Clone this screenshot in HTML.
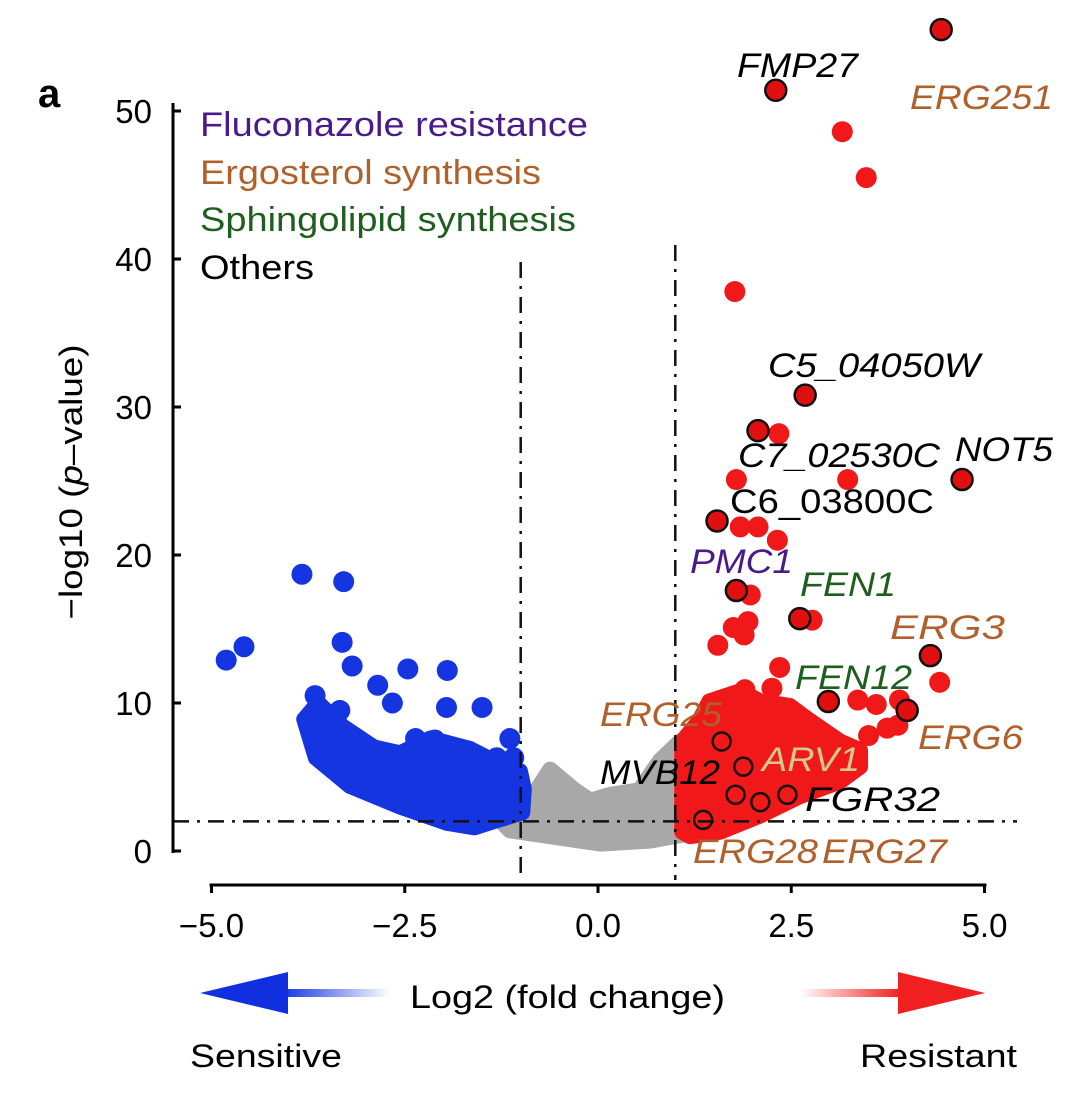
<!DOCTYPE html>
<html><head><meta charset="utf-8"><style>
body{margin:0;background:#fff}
svg{display:block;font-family:"Liberation Sans",sans-serif}
</style></head><body>
<svg id="chart" width="1080" height="1094" viewBox="0 0 1080 1094">
<defs>
<linearGradient id="gb" x1="0" x2="1"><stop offset="0" stop-color="#1030e0"/><stop offset="1" stop-color="#1030e0" stop-opacity="0"/></linearGradient>
<linearGradient id="gr" x1="0" x2="1"><stop offset="0" stop-color="#f02020" stop-opacity="0"/><stop offset="1" stop-color="#f02020"/></linearGradient>
</defs>
<text x="38" y="107" font-size="40" font-weight="bold">a</text>
<g id="marks"></g>
<g id="axes"></g>
<g font-size="34">
<text x="200" y="136" fill="#4b1a8a" textLength="388" lengthAdjust="spacingAndGlyphs">Fluconazole resistance</text>
<text x="200" y="184" fill="#b0602a" textLength="341" lengthAdjust="spacingAndGlyphs">Ergosterol synthesis</text>
<text x="200" y="231" fill="#1e5e1e" textLength="376" lengthAdjust="spacingAndGlyphs">Sphingolipid synthesis</text>
<text x="200" y="279" fill="#000" textLength="114" lengthAdjust="spacingAndGlyphs">Others</text>
</g>
<g font-size="34" font-style="italic">
<text x="737" y="77" textLength="121" lengthAdjust="spacingAndGlyphs">FMP27</text>
<text x="910" y="109" fill="#b0602a" textLength="143" lengthAdjust="spacingAndGlyphs">ERG251</text>
<text x="768" y="377" textLength="212" lengthAdjust="spacingAndGlyphs">C5_04050W</text>
<text x="738" y="467" textLength="202" lengthAdjust="spacingAndGlyphs">C7_02530C</text>
<text x="955" y="461" textLength="98" lengthAdjust="spacingAndGlyphs">NOT5</text>
<text x="730" y="513" font-style="normal" textLength="204" lengthAdjust="spacingAndGlyphs">C6_03800C</text>
<text x="690" y="573" fill="#4b1a8a" textLength="103" lengthAdjust="spacingAndGlyphs">PMC1</text>
<text x="800" y="596" fill="#1e5e1e" textLength="96" lengthAdjust="spacingAndGlyphs">FEN1</text>
<text x="890" y="639" fill="#b0602a" textLength="115" lengthAdjust="spacingAndGlyphs">ERG3</text>
<text x="795" y="689" fill="#1e5e1e" textLength="117" lengthAdjust="spacingAndGlyphs">FEN12</text>
<text x="918" y="749" fill="#b0602a" textLength="105" lengthAdjust="spacingAndGlyphs">ERG6</text>
<text x="600" y="726" fill="#b0602a" textLength="122" lengthAdjust="spacingAndGlyphs">ERG25</text>
<text x="600" y="784" textLength="120" lengthAdjust="spacingAndGlyphs">MVB12</text>
<text x="762" y="771" fill="#d8c890" textLength="98" lengthAdjust="spacingAndGlyphs">ARV1</text>
<text x="805" y="811" textLength="135" lengthAdjust="spacingAndGlyphs">FGR32</text>
<text x="693" y="863" fill="#b0602a" textLength="125" lengthAdjust="spacingAndGlyphs">ERG28</text>
<text x="822" y="863" fill="#b0602a" textLength="125" lengthAdjust="spacingAndGlyphs">ERG27</text>
</g>
<text transform="translate(82,482) rotate(-90)" text-anchor="middle" font-size="32" textLength="275" lengthAdjust="spacingAndGlyphs">−log10 (<tspan font-style="italic">p</tspan>–value)</text>
<g>
<rect x="280" y="989" width="110" height="8" fill="url(#gb)"/>
<polygon points="200,993 288,972 288,1014" fill="#1030e0"/>
<rect x="800" y="989" width="100" height="8" fill="url(#gr)"/>
<polygon points="985,993 898,972 898,1014" fill="#f02020"/>
<text x="410" y="1008" font-size="32" textLength="315" lengthAdjust="spacingAndGlyphs">Log2 (fold change)</text>
<text x="190" y="1067" font-size="32" textLength="152" lengthAdjust="spacingAndGlyphs">Sensitive</text>
<text x="860" y="1067" font-size="32" textLength="157" lengthAdjust="spacingAndGlyphs">Resistant</text>
</g>
</svg>
<script>
const xTicks=[-5,-2.5,0,2.5,5];
const xTickLabels=["−5.0","−2.5","0.0","2.5","5.0"];
const yTicks=[0,10,20,30,40,50];
const yTickLabels=["0","10","20","30","40","50"];
const fcThreshold=[-1,1];
const pThreshold=2;
const grayRegionX=[-1.27,-0.88,-0.62,-0.30,-0.10,0.16,0.54,0.80,1.06,1.09,0.67,0.03,-0.49,-1.14];
const grayRegionY=[2.1,3.4,5.5,4.1,3.4,3.8,4.1,6.1,7.4,1.1,0.7,0.5,0.9,1.4];
const blueRegionX=[-3.62,-3.30,-2.90,-2.56,-2.17,-1.66,-1.25,-1.01,-0.96,-0.98,-1.30,-1.60,-1.95,-2.56,-3.21,-3.65,-3.80];
const blueRegionY=[10.0,8.4,7.0,6.6,7.6,6.9,5.8,5.4,4.2,2.6,2.1,1.6,1.9,3.0,4.4,6.3,8.9];
const redRegionX=[1.09,1.09,1.31,1.44,1.84,2.10,2.48,2.74,3.13,3.39,3.39,3.13,2.61,2.10,1.58,1.19];
const redRegionY=[1.3,7.4,8.8,10.1,10.8,10.1,9.8,8.8,7.4,6.8,5.7,4.7,3.7,2.4,1.3,1.0];
const blueX=[-4.81,-4.58,-3.83,-3.29,-3.31,-3.18,-2.85,-2.46,-1.95,-1.50,-2.66,-3.66,-3.49,-3.34,-1.96,-2.36,-2.11,-1.14,-1.09,-1.31,-3.50];
const blueY=[12.9,13.8,18.7,18.2,14.1,12.5,11.2,12.3,12.2,9.7,10.0,10.5,8.2,9.5,9.7,7.6,7.5,7.6,6.3,6.3,7.5];
const redX=[3.16,3.47,1.77,2.34,3.23,1.79,1.84,2.07,2.32,1.97,1.94,2.77,1.75,1.89,1.55,4.42,2.35,2.25,1.90,3.36,3.60,3.90,3.88,3.50,3.74];
const redY=[48.6,45.5,37.8,28.2,25.1,25.1,21.9,21.9,21.0,17.3,15.5,15.6,15.1,14.6,13.9,11.4,12.4,11.0,10.9,10.2,9.9,10.2,8.5,7.8,8.3];
const hlX=[4.44,2.30,2.68,2.07,4.71,1.54,1.79,2.61,4.30,2.98,4.00];
const hlY=[55.5,51.4,30.8,28.4,25.1,22.3,17.6,15.7,13.2,10.1,9.5];
const openX=[1.60,1.88,1.78,2.10,2.45,1.36];
const openY=[7.4,5.7,3.8,3.3,3.8,2.1];

const sx=v=>598+v*77.3, sy=v=>851-v*14.8;
const NS="http://www.w3.org/2000/svg";
const marks=document.getElementById('marks'), axes=document.getElementById('axes');
function mk(tag,attrs,parent){const e=document.createElementNS(NS,tag);for(const k in attrs)e.setAttribute(k,attrs[k]);parent.appendChild(e);return e;}
function region(xs,ys,fill,name){
  const pts=xs.map((x,i)=>sx(x)+','+sy(ys[i])).join(' ');
  const p=mk('polygon',{points:pts,fill:fill,stroke:fill,'stroke-width':16,'stroke-linejoin':'round'},marks);
  
  
}
region(grayRegionX,grayRegionY,'#a8a8a8','gray-cluster');
region(blueRegionX,blueRegionY,'#1535e0','blue-cluster');
region(redRegionX,redRegionY,'#f01818','red-cluster');
blueX.forEach((x,i)=>{const c=mk('circle',{cx:sx(x),cy:sy(blueY[i]),r:10.5,fill:'#1535e0'},marks);

});
redX.forEach((x,i)=>{const c=mk('circle',{cx:sx(x),cy:sy(redY[i]),r:10.5,fill:'#f01818'},marks);

});
hlX.forEach((x,i)=>{const c=mk('circle',{cx:sx(x),cy:sy(hlY[i]),r:10.5,fill:'#e01010',stroke:'#111','stroke-width':2.5},marks);

});
openX.forEach((x,i)=>{const c=mk('circle',{cx:sx(x),cy:sy(openY[i]),r:9,fill:'none',stroke:'#111','stroke-width':2.5},marks);

});
fcThreshold.forEach(v=>{const l=mk('line',{x1:sx(v),x2:sx(v),y1:v<0?262:245,y2:880,stroke:'#111','stroke-width':2.5,'stroke-dasharray':'16 8 3 8'},axes);

});
const hl=mk('line',{x1:173,x2:1017,y1:sy(pThreshold),y2:sy(pThreshold),stroke:'#111','stroke-width':2.5,'stroke-dasharray':'16 8 3 8'},axes);


const ya=mk('line',{x1:173,x2:173,y1:sy(50)-8,y2:sy(0)+2,stroke:'#000','stroke-width':3},axes);


yTicks.forEach((v,i)=>{mk('line',{x1:173,x2:181,y1:sy(v),y2:sy(v),stroke:'#000','stroke-width':3},axes);
const t=mk('text',{x:152,y:sy(v)+12,'text-anchor':'end','font-size':33},axes);t.textContent=yTickLabels[i];

});
const xa=mk('line',{x1:sx(-5)-2,x2:sx(5)+2,y1:885,y2:885,stroke:'#000','stroke-width':3},axes);


xTicks.forEach((v,i)=>{mk('line',{x1:sx(v),x2:sx(v),y1:885,y2:893,stroke:'#000','stroke-width':3},axes);
const t=mk('text',{x:sx(v),y:937,'text-anchor':'middle','font-size':33},axes);t.textContent=xTickLabels[i];

});
</script>
</body></html>
